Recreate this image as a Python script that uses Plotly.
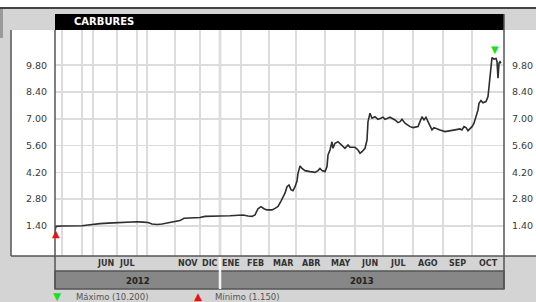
import plotly.graph_objects as go

# ---------------- data ----------------
title = "CARBURES"
sessions = [0, 1, 7, 15, 27, 33, 40, 45, 53, 60, 67, 75, 82, 88, 93, 97, 102, 107, 112, 117,
            122, 125, 129, 135, 145, 150, 157, 165, 175, 185, 188, 193, 197, 200, 203, 206,
            209, 212, 217, 220, 223, 226, 228, 230, 232, 234, 236, 238, 240, 242, 243, 245,
            247, 250, 255, 260, 263, 265, 267, 270, 272, 273, 275, 277, 278, 280, 283, 287,
            290, 293, 295, 300, 303, 305, 307, 310, 312, 313, 315, 317, 320, 323, 325, 328,
            330, 335, 340, 343, 345, 347, 350, 355, 358, 363, 365, 367, 369, 371, 373, 375,
            377, 379, 382, 385, 390, 395, 400, 405, 407, 409, 411, 413, 415, 417, 419, 421,
            423, 424, 426, 428, 431, 433, 434, 435, 436, 437, 439, 441, 442, 443, 444, 445,
            446]
prices = [1.15, 1.38, 1.40, 1.40, 1.41, 1.45, 1.50, 1.52, 1.55, 1.57, 1.58, 1.60, 1.62, 1.60,
          1.58, 1.50, 1.48, 1.50, 1.55, 1.58, 1.62, 1.68, 1.80, 1.82, 1.84, 1.90, 1.92, 1.92,
          1.93, 1.95, 1.97, 1.92, 1.90, 1.98, 2.30, 2.41, 2.30, 2.24, 2.24, 2.32, 2.42, 2.70,
          2.90, 3.11, 3.45, 3.54, 3.30, 3.24, 3.45, 3.75, 4.15, 4.53, 4.41, 4.29, 4.24, 4.20,
          4.29, 4.41, 4.30, 4.24, 4.50, 5.11, 5.37, 5.80, 5.46, 5.72, 5.80, 5.58, 5.46, 5.63,
          5.51, 5.51, 5.37, 5.20, 5.28, 5.46, 5.89, 6.85, 7.29, 7.03, 7.11, 6.97, 7.03, 7.08,
          6.97, 7.08, 6.94, 6.80, 6.85, 6.97, 6.77, 6.59, 6.54, 6.59, 6.85, 7.11, 6.94, 7.08,
          6.85, 6.59, 6.42, 6.54, 6.47, 6.42, 6.33, 6.36, 6.42, 6.47, 6.42, 6.59, 6.54, 6.38,
          6.47, 6.59, 6.77, 7.08, 7.46, 7.81, 7.95, 7.84, 7.90, 8.16, 8.68, 9.38, 10.07, 10.20,
          10.12, 10.15, 10.00, 9.12, 9.90, 9.98, 9.90]
month_labels = ["", "", "", "JUN", "JUL", "", "", "NOV", "DIC", "ENE", "FEB", "MAR", "ABR",
                "MAY", "JUN", "JUL", "AGO", "SEP", "OCT"]
month_bounds = [0, 7, 27, 38, 62, 82, 92, 120, 145, 165, 186, 214, 241, 270, 300, 328, 358,
                388, 417, 449]
years = ["2012", "2013"]
year_bounds = [0, 165, 449]
y_ticks = [1.40, 2.80, 4.20, 5.60, 7.00, 8.40, 9.80]
y_range = [-0.17, 11.64]

# ---------------- layout helpers ----------------
W, H = 536, 302
L, R, T, B = 55, 504, 30, 256
BG = "#d4d4d4"
FONT = "DejaVu Sans"


def fx(p):
    return (p - L) / (R - L)


def fy(p):
    return (B - p) / (B - T)


fig = go.Figure()
fig.add_trace(go.Scatter(x=sessions, y=prices, mode="lines",
                         line=dict(color="#2e2e2e", width=1.6),
                         hoverinfo="skip", showlegend=False))
fig.add_trace(go.Scatter(x=[sessions[0]], y=[prices[0]], yaxis="y2", mode="markers",
                         marker=dict(opacity=0), hoverinfo="skip", showlegend=False))

tick_text = [f"{v:.2f}" for v in y_ticks]
yax = dict(range=y_range, tickvals=y_ticks, ticktext=tick_text, showline=False,
           zeroline=False, ticks="outside", ticklen=5, tickcolor="rgba(0,0,0,0)",
           tickfont=dict(family=FONT, size=9.5, color="#3a3a3a"), fixedrange=True,
           automargin=False)

fig.update_layout(
    width=W, height=H,
    margin=dict(l=L, r=W - R, t=T, b=H - B, pad=0, autoexpand=False),
    paper_bgcolor=BG, plot_bgcolor="white",
    showlegend=False,
    xaxis=dict(range=[month_bounds[0], month_bounds[-1]], tickvals=month_bounds[1:-1],
               showticklabels=False, ticks="", showgrid=True, gridcolor="#dcdcdc",
               gridwidth=1.5, zeroline=False, showline=False, automargin=False,
               fixedrange=True),
    yaxis=dict(**yax, side="left", showgrid=True, gridcolor="#dcdcdc", gridwidth=1.5),
    yaxis2=dict(**yax, side="right", overlaying="y", showgrid=False),
)

shapes = []
# white strip at top and dark rule
shapes.append(dict(type="rect", xref="paper", yref="paper", x0=fx(0), x1=fx(W), y0=fy(0), y1=fy(7.5),
                   fillcolor="white", line=dict(width=0), layer="below"))
shapes.append(dict(type="line", xref="paper", yref="paper", x0=fx(0), x1=fx(W), y0=fy(8), y1=fy(8),
                   line=dict(color="#444444", width=2)))
shapes.append(dict(type="rect", xref="paper", yref="paper", x0=fx(0), x1=fx(3), y0=fy(9), y1=fy(38),
                   fillcolor="#9a9a9a", line=dict(width=0)))
# white label panel
shapes.append(dict(type="rect", xref="paper", yref="paper", x0=fx(11), x1=fx(W), y0=fy(B), y1=fy(T),
                   fillcolor="white", line=dict(width=0), layer="below"))
shapes.append(dict(type="line", xref="paper", yref="paper", x0=fx(11), x1=fx(11), y0=fy(B), y1=fy(T),
                   line=dict(color="#555555", width=1.5)))
shapes.append(dict(type="line", xref="paper", yref="paper", x0=fx(11), x1=fx(W), y0=fy(B), y1=fy(B),
                   line=dict(color="#555555", width=1.5)))
# title bar
shapes.append(dict(type="rect", xref="paper", yref="paper", x0=0, x1=1, y0=fy(T), y1=fy(14),
                   fillcolor="black", line=dict(width=0)))
# year band
shapes.append(dict(type="rect", xref="paper", yref="paper", x0=0, x1=1, y0=fy(289), y1=fy(271),
                   fillcolor="#878787", line=dict(color="#555555", width=1.5)))
# plot side borders
shapes.append(dict(type="line", xref="paper", yref="paper", x0=0, x1=0, y0=fy(289), y1=fy(T),
                   line=dict(color="#555555", width=1.5)))
shapes.append(dict(type="line", xref="paper", yref="paper", x0=1, x1=1, y0=fy(289), y1=fy(14),
                   line=dict(color="#555555", width=1.5)))
# year separator
sep = year_bounds[1]
shapes.append(dict(type="line", xref="x", yref="paper", x0=sep, x1=sep, y0=0, y1=1,
                   line=dict(color="#cfcfcf", width=2.5), layer="below"))
shapes.append(dict(type="line", xref="x", yref="paper", x0=sep, x1=sep, y0=fy(289), y1=fy(B + 1),
                   line=dict(color="#f4f4f4", width=2.5)))
fig.update_layout(shapes=shapes)

ann = []
ann.append(dict(text=f"<b>{title}</b>", xref="paper", yref="paper", x=fx(72), y=fy(22),
                xanchor="left", yanchor="middle", showarrow=False,
                font=dict(family=FONT, size=10, color="white")))
for i, lab in enumerate(month_labels):
    if lab:
        ann.append(dict(text=f"<b>{lab}</b>", xref="x", yref="paper",
                        x=(month_bounds[i] + month_bounds[i + 1]) / 2, y=fy(263.5),
                        xanchor="center", yanchor="middle", showarrow=False,
                        font=dict(family=FONT, size=8, color="#333333")))
for i, yr in enumerate(years):
    ann.append(dict(text=f"<b>{yr}</b>", xref="x", yref="paper",
                    x=(year_bounds[i] + year_bounds[i + 1]) / 2, y=fy(280.5),
                    xanchor="center", yanchor="middle", showarrow=False,
                    font=dict(family=FONT, size=8.5, color="#222222")))

vmax = max(prices)
vmin = min(prices)
imax = prices.index(vmax)
imin = prices.index(vmin)
ann.append(dict(text="▼", xref="x", yref="y", x=sessions[imax] + 3, y=vmax, yshift=8,
                showarrow=False, font=dict(family=FONT, size=10, color="#19e019")))
ann.append(dict(text="▲", xref="x", yref="y", x=sessions[imin] + 1, y=vmin, yshift=-3,
                showarrow=False, font=dict(family=FONT, size=10, color="#ee1111")))
# bottom legend
ann.append(dict(text="▼", xref="paper", yref="paper", x=fx(57), y=fy(296), xanchor="center",
                yanchor="middle", showarrow=False, font=dict(family=FONT, size=10.5, color="#19e019")))
ann.append(dict(text=f"Máximo ({vmax:.3f})", xref="paper", yref="paper", x=fx(74), y=fy(297),
                xanchor="left", yanchor="middle", showarrow=False,
                font=dict(family=FONT, size=8.5, color="#555555")))
ann.append(dict(text="▲", xref="paper", yref="paper", x=fx(198), y=fy(296), xanchor="center",
                yanchor="middle", showarrow=False, font=dict(family=FONT, size=10.5, color="#ee1111")))
ann.append(dict(text=f"Mínimo ({vmin:.3f})", xref="paper", yref="paper", x=fx(213), y=fy(297),
                xanchor="left", yanchor="middle", showarrow=False,
                font=dict(family=FONT, size=8.5, color="#555555")))
fig.update_layout(annotations=ann)

fig.write_html("out.html", config={"displayModeBar": False, "staticPlot": True},
               post_script="document.body.style.margin='0';document.body.style.overflow='hidden';")
